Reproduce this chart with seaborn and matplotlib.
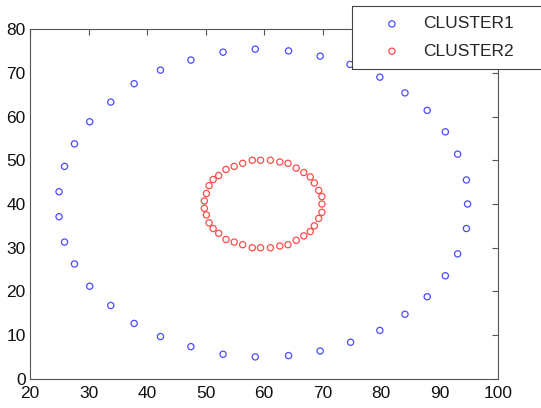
import matplotlib
matplotlib.use("Agg")
import matplotlib.pyplot as plt
from matplotlib.lines import Line2D
import seaborn as sns
import pandas as pd

# Outer ring
cluster1_x = [24.96, 25.9, 27.6, 30.2, 33.8, 37.8, 42.3, 47.5, 53.0, 58.5, 64.2, 69.6, 74.7,
              79.8, 84.1, 87.9, 91.0, 93.1, 94.6, 94.8, 94.6, 93.1, 91.0, 87.9, 84.1, 79.8,
              74.8, 69.6, 64.2, 58.5, 53.0, 47.5, 42.3, 37.8, 33.8, 30.2, 27.6, 25.9, 24.96]
cluster1_y = [42.8, 48.6, 53.75, 58.8, 63.3, 67.5, 70.6, 72.9, 74.7, 75.4, 75.0, 73.8, 71.9,
              69.0, 65.4, 61.4, 56.5, 51.4, 45.5, 40.0, 34.4, 28.6, 23.6, 18.8, 14.8, 11.1,
              8.4, 6.4, 5.35, 5.05, 5.65, 7.4, 9.7, 12.7, 16.8, 21.2, 26.3, 31.3, 37.1]

# Inner ring
cluster2_x = [49.8, 50.15, 50.6, 51.3, 52.25, 53.5, 54.9, 56.35, 58.0, 59.4, 61.1, 62.7, 64.1,
              65.5, 66.8, 67.9, 68.6, 69.35, 69.9, 69.9,
              69.9, 69.35, 68.6, 67.9, 66.8, 65.5, 64.1, 62.7, 61.1, 59.4, 58.0, 56.35, 54.9,
              53.5, 52.25, 51.3, 50.6, 50.15, 49.8]
cluster2_y = [40.7, 42.4, 44.2, 45.6, 46.5, 47.9, 48.6, 49.3, 50.0, 50.0, 50.0, 49.6, 49.3,
              48.2, 47.2, 46.2, 44.8, 43.1, 41.7, 40.0,
              38.1, 36.7, 35.0, 33.7, 32.7, 31.7, 30.7, 30.4, 30.0, 30.0, 30.0, 30.7, 31.3,
              31.9, 33.3, 34.4, 35.7, 37.5, 39.0]

labels = ["CLUSTER1", "CLUSTER2"]
colors = ["#4b4bff", "#ff4b4b"]
x_ticks = [20, 30, 40, 50, 60, 70, 80, 90, 100]
y_ticks = [0, 10, 20, 30, 40, 50, 60, 70, 80]

sns.set_style("white")
plt.rcParams["font.family"] = ["Liberation Sans", "DejaVu Sans"]

fig = plt.figure(figsize=(5.41, 4.08), dpi=100)
ax = fig.add_axes([0.0555, 0.0711, 0.865, 0.8578])

for xs, ys, lab, col in zip([cluster1_x, cluster2_x], [cluster1_y, cluster2_y], labels, colors):
    df = pd.DataFrame({"x": xs, "y": ys})
    sns.scatterplot(data=df, x="x", y="y", ax=ax, color=col, facecolor="none",
                    edgecolor=col, s=20, linewidth=0.9, marker="o", label=lab)

ax.set_xlim(20, 100)
ax.set_ylim(0, 80)
ax.set_xticks(x_ticks)
ax.set_yticks(y_ticks)
ax.set_xlabel("")
ax.set_ylabel("")
ax.tick_params(direction="in", length=4, width=0.8, color="#555555",
               top=True, right=True, labelsize=12.5, labelcolor="#111111")
ax.tick_params(axis="x", pad=5)
ax.tick_params(axis="y", pad=3)
for sp in ax.spines.values():
    sp.set_visible(True)
    sp.set_color("#555555")
    sp.set_linewidth(0.8)

# Legend box runs off the right edge of the figure: white fill, outline on
# the top, left and bottom sides only.
leg = ax.legend(loc="upper left", bbox_to_anchor=(0.688, 0.886, 0.6, 0.18), mode="expand",
                fontsize=12.5, frameon=True, fancybox=False, borderpad=0.6,
                handlelength=3.4, handletextpad=0.1, labelspacing=0.7,
                borderaxespad=0, scatterpoints=1)
leg.get_frame().set_edgecolor("none")
leg.get_frame().set_facecolor("white")
leg.get_frame().set_alpha(1)

fig.canvas.draw()
bb = leg.get_window_extent().transformed(fig.transFigure.inverted())
x0, y0, y1 = bb.x0, bb.y0, bb.y1
edge_kw = dict(transform=fig.transFigure, color="#444444", linewidth=0.8, zorder=10)
fig.add_artist(Line2D([x0, 1.05], [y1, y1], **edge_kw))
fig.add_artist(Line2D([x0, 1.05], [y0, y0], **edge_kw))
fig.add_artist(Line2D([x0, x0], [y0, y1], **edge_kw))

fig.savefig("out.png", dpi=100)
